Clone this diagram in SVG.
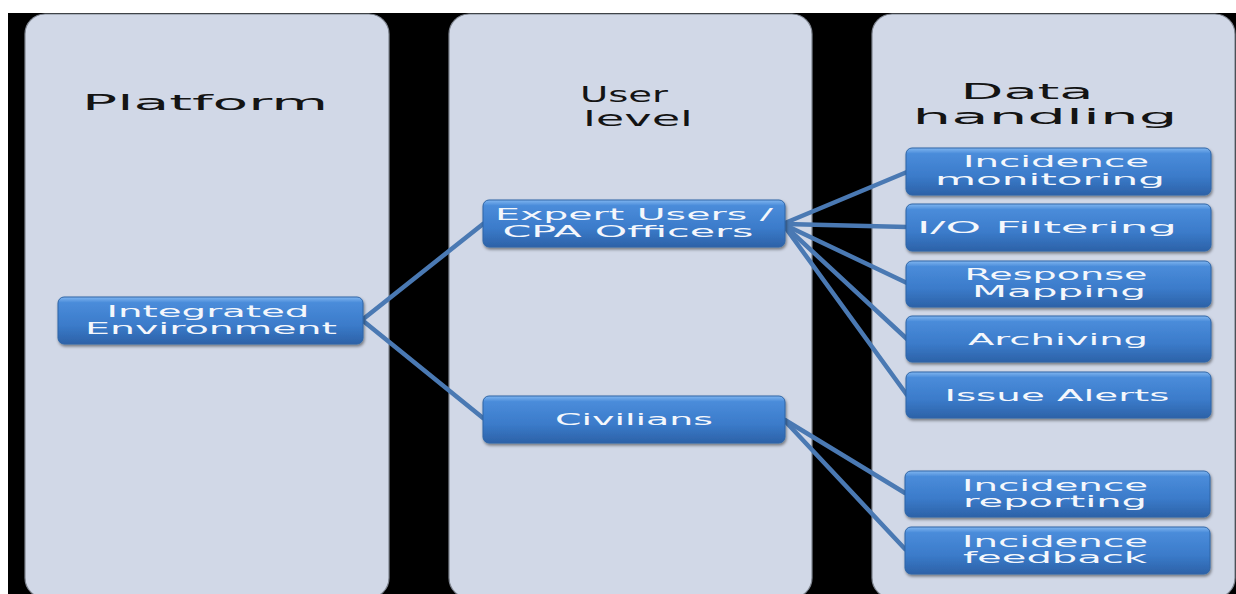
<svg xmlns="http://www.w3.org/2000/svg" width="1236" height="594" viewBox="0 0 1236 594">
<defs>
<linearGradient id="nodeGrad" x1="0" y1="0" x2="0" y2="1">
<stop offset="0" stop-color="#80B6F0"/>
<stop offset="0.12" stop-color="#4A8CDA"/>
<stop offset="0.6" stop-color="#3B7BCA"/>
<stop offset="1" stop-color="#2C62A8"/>
</linearGradient>
<filter id="shadow" x="-10%" y="-20%" width="120%" height="150%">
<feDropShadow dx="1" dy="2" stdDeviation="1.5" flood-color="#000" flood-opacity="0.45"/>
</filter>
<style>
.panel{fill:#D1D8E7;stroke:#7F8590;stroke-width:1.2}
.title{font-family:"DejaVu Sans","Liberation Sans",sans-serif;font-size:22px;fill:#141414;text-anchor:middle}
.node rect{fill:url(#nodeGrad);stroke:#2E65A6;stroke-width:1;filter:url(#shadow)}
.node text{font-family:"DejaVu Sans","Liberation Sans",sans-serif;font-size:15px;fill:#F4F7FC;text-anchor:middle}
.conn line{stroke:#4A79B3;stroke-width:4.5;stroke-linecap:round}
</style>
</defs>
<rect x="0" y="0" width="1236" height="594" fill="#FFFFFF"/>
<rect x="8" y="13" width="1228" height="581" fill="#000000"/>
<g id="panels">
<rect class="panel" x="25" y="14" width="364" height="584" rx="20"/>
<rect class="panel" x="449" y="14" width="363" height="584" rx="20"/>
<rect class="panel" x="872" y="14" width="363" height="584" rx="20"/>
<text class="title" x="205" y="110" textLength="246" lengthAdjust="spacingAndGlyphs">Platform</text>
<text class="title" x="624" y="102" textLength="88" lengthAdjust="spacingAndGlyphs">User</text>
<text class="title" x="638" y="126" textLength="110" lengthAdjust="spacingAndGlyphs">level</text>
<text class="title" x="1027" y="99" textLength="133" lengthAdjust="spacingAndGlyphs">Data</text>
<text class="title" x="1045" y="124" textLength="265" lengthAdjust="spacingAndGlyphs">handling</text>
</g>
<g id="connectors" class="conn">
<line x1="362" y1="320" x2="483" y2="224"/>
<line x1="362" y1="320" x2="483" y2="418"/>
<line x1="785" y1="223" x2="907" y2="172"/>
<line x1="785" y1="224" x2="907" y2="227"/>
<line x1="785" y1="225" x2="907" y2="283"/>
<line x1="785" y1="226" x2="907" y2="339"/>
<line x1="785" y1="227" x2="907" y2="395"/>
<line x1="785" y1="420" x2="905" y2="493"/>
<line x1="785" y1="421" x2="905" y2="549"/>
</g>
<g id="integrated-environment" class="node">
<rect x="58" y="297" width="305" height="47" rx="6"/>
<text x="208" y="317" textLength="203" lengthAdjust="spacingAndGlyphs">Integrated</text>
<text x="211" y="334" textLength="252" lengthAdjust="spacingAndGlyphs">Environment</text>
</g>
<g id="expert-users" class="node">
<rect x="483" y="200" width="302" height="47" rx="6"/>
<text x="634" y="220" textLength="278" lengthAdjust="spacingAndGlyphs">Expert Users /</text>
<text x="628" y="237" textLength="251" lengthAdjust="spacingAndGlyphs">CPA Officers</text>
</g>
<g id="civilians" class="node">
<rect x="483" y="396" width="302" height="47" rx="6"/>
<text x="634" y="425" textLength="158" lengthAdjust="spacingAndGlyphs">Civilians</text>
</g>
<g id="incidence-monitoring" class="node">
<rect x="906" y="148" width="305" height="47" rx="6"/>
<text x="1056" y="167" textLength="186" lengthAdjust="spacingAndGlyphs">Incidence</text>
<text x="1050" y="185" textLength="230" lengthAdjust="spacingAndGlyphs">monitoring</text>
</g>
<g id="io-filtering" class="node">
<rect x="906" y="204" width="305" height="47" rx="6"/>
<text x="1047" y="233" textLength="260" lengthAdjust="spacingAndGlyphs">I/O Filtering</text>
</g>
<g id="response-mapping" class="node">
<rect x="906" y="261" width="305" height="46" rx="6"/>
<text x="1056" y="280" textLength="183" lengthAdjust="spacingAndGlyphs">Response</text>
<text x="1059" y="297" textLength="174" lengthAdjust="spacingAndGlyphs">Mapping</text>
</g>
<g id="archiving" class="node">
<rect x="906" y="316" width="305" height="46" rx="6"/>
<text x="1058" y="345" textLength="180" lengthAdjust="spacingAndGlyphs">Archiving</text>
</g>
<g id="issue-alerts" class="node">
<rect x="906" y="372" width="305" height="46" rx="6"/>
<text x="1057" y="401" textLength="225" lengthAdjust="spacingAndGlyphs">Issue Alerts</text>
</g>
<g id="incidence-reporting" class="node">
<rect x="905" y="471" width="305" height="46" rx="6"/>
<text x="1055" y="491" textLength="186" lengthAdjust="spacingAndGlyphs">Incidence</text>
<text x="1055" y="507" textLength="184" lengthAdjust="spacingAndGlyphs">reporting</text>
</g>
<g id="incidence-feedback" class="node">
<rect x="905" y="527" width="305" height="47" rx="6"/>
<text x="1055" y="547" textLength="186" lengthAdjust="spacingAndGlyphs">Incidence</text>
<text x="1055" y="563" textLength="184" lengthAdjust="spacingAndGlyphs">feedback</text>
</g>
</svg>
